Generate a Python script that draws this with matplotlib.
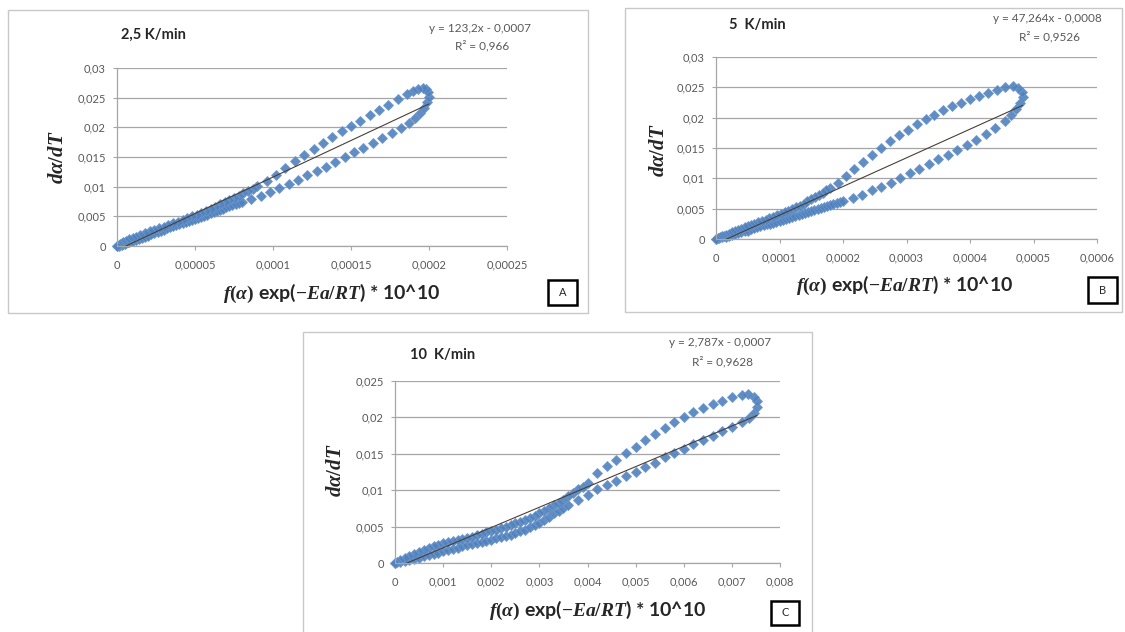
import matplotlib

matplotlib.use("Agg")
import matplotlib.pyplot as plt
from matplotlib.patches import Rectangle
from matplotlib.ticker import FuncFormatter, MultipleLocator

plt.rcParams["font.family"] = ["Lato", "DejaVu Sans"]
plt.rcParams["mathtext.fontset"] = "custom"
plt.rcParams["mathtext.it"] = "Liberation Serif:italic:bold"
plt.rcParams["mathtext.rm"] = "Liberation Serif:bold"
plt.rcParams["mathtext.bf"] = "Liberation Serif:bold"

# --- 2,5 K/min : x in 1e-6, y in 1e-3 ---
a_x = [0, 1, 2, 3, 4, 5, 6, 7, 8, 9, 10, 12, 14, 16, 18, 20, 22, 24, 26, 28, 30,
       32, 34, 36, 38, 40, 42, 44, 46, 48, 50, 52, 54, 56, 58, 60, 62, 64, 66,
       68, 70, 72, 74, 76, 78, 80, 86, 92, 98, 104, 110, 116, 122, 128, 134,
       140, 146, 152, 158, 164, 170, 176, 182, 187, 191, 194, 197, 199, 200,
       199.5, 198, 196, 193, 190, 186, 180, 174, 168, 162, 156, 150, 144, 138,
       132, 126, 120, 114, 108, 102, 96, 90, 87, 84, 81, 78, 75, 72, 69, 66, 63,
       60, 57, 54, 51, 48, 45, 42, 39, 36, 33, 30, 27, 24, 21, 18, 15, 12, 10,
       8, 6, 4, 3, 2, 1, 0]
a_y = [0, 0.08, 0.16, 0.25, 0.33, 0.42, 0.5, 0.6, 0.7, 0.8, 0.9, 1.05, 1.22, 1.4,
       1.57, 1.75, 1.95, 2.15, 2.35, 2.55, 2.75, 2.95, 3.15, 3.32, 3.5, 3.7,
       3.87, 4.04, 4.2, 4.38, 4.55, 4.75, 4.95, 5.12, 5.3, 5.5, 5.7, 5.9, 6.1,
       6.3, 6.5, 6.68, 6.86, 7.04, 7.22, 7.4, 8.0, 8.5, 9.1, 9.8, 10.5, 11.2,
       11.9, 12.6, 13.3, 14.2, 15.0, 15.8, 16.6, 17.4, 18.2, 19.0, 19.9, 20.8,
       21.6, 22.4, 23.3, 24.2, 25.1, 25.9, 26.4, 26.6, 26.5, 26.2, 25.6, 24.7,
       23.8, 22.9, 22.0, 21.1, 20.3, 19.3, 18.4, 17.4, 16.4, 15.4, 14.3, 13.2,
       12.0, 11.0, 10.1, 9.65, 9.2, 8.85, 8.5, 8.1, 7.7, 7.35, 7.0, 6.65, 6.3,
       5.95, 5.6, 5.3, 5.0, 4.7, 4.4, 4.1, 3.8, 3.5, 3.25, 3.0, 2.75, 2.5, 2.2,
       1.9, 1.6, 1.35, 1.1, 0.85, 0.6, 0.45, 0.3, 0.15, 0.05]

# --- 5 K/min : x in 1e-5, y in 1e-3 ---
b_x = [0, 0.5, 1, 1.5, 2, 2.5, 3, 3.5, 4, 4.5, 5, 5.5, 6, 6.5, 7, 7.5, 8, 8.5, 9,
       9.5, 10, 10.5, 11, 11.5, 12, 12.5, 13, 13.5, 14, 14.5, 15, 15.5, 16,
       16.5, 17, 17.5, 18, 18.5, 19, 19.5, 20, 21.5, 23, 24.5, 26, 27.5, 29,
       30.5, 32, 33.5, 35, 36.5, 38, 39.5, 41, 42.5, 44, 45.5, 46.5, 47.3, 47.9,
       48.3, 48.2, 47.6, 46.8, 45.5, 44.2, 42.8, 41.4, 40, 38.6, 37.2, 35.8,
       34.4, 33, 31.6, 30.2, 28.8, 27.4, 26, 24.6, 23.2, 21.8, 20.5, 19.2, 18,
       17.4, 16.8, 16.2, 15.6, 15, 14.4, 13.8, 13.2, 12.6, 12, 11.4, 10.8, 10.2,
       9.6, 9, 8.4, 7.8, 7.2, 6.6, 6, 5.5, 5, 4.5, 4, 3.5, 3, 2.5, 2, 1.5, 1.2,
       0.9, 0.6, 0.3, 0]
b_y = [0, 0.12, 0.25, 0.38, 0.5, 0.65, 0.8, 0.95, 1.1, 1.25, 1.4, 1.57, 1.75,
       1.92, 2.1, 2.25, 2.4, 2.55, 2.7, 2.85, 3.0, 3.15, 3.3, 3.45, 3.6, 3.78,
       3.95, 4.12, 4.3, 4.45, 4.6, 4.78, 4.95, 5.12, 5.3, 5.45, 5.6, 5.75, 5.9,
       6.05, 6.2, 6.75, 7.3, 8.0, 8.6, 9.3, 10.1, 10.8, 11.6, 12.4, 13.2, 13.9,
       14.7, 15.5, 16.4, 17.3, 18.3, 19.4, 20.4, 21.4, 22.4, 23.4, 24.2, 24.9,
       25.2, 25.0, 24.6, 24.1, 23.6, 23.1, 22.5, 21.9, 21.2, 20.5, 19.7, 18.9,
       18.0, 17.1, 16.1, 15.0, 13.9, 12.7, 11.5, 10.4, 9.3, 8.4, 8.0, 7.6, 7.25,
       6.9, 6.55, 6.2, 5.85, 5.5, 5.2, 4.9, 4.65, 4.4, 4.15, 3.9, 3.65, 3.4,
       3.2, 3.0, 2.75, 2.5, 2.3, 2.1, 1.9, 1.7, 1.5, 1.3, 1.1, 0.9, 0.7, 0.55,
       0.42, 0.3, 0.15, 0.05]

# --- 10 K/min : x in 1e-4, y in 1e-3 ---
c_x = [0, 1, 2, 3, 4, 5, 6, 7, 8, 9, 10, 11, 12, 13, 14, 15, 16, 17, 18, 19, 20,
       21, 22, 23, 24, 25, 26, 27, 28, 29, 30, 31, 32, 33, 34, 35, 36, 38, 40,
       42, 44, 46, 48, 50, 52, 54, 56, 58, 60, 62, 64, 66, 68, 70, 72, 73.5,
       74.6, 75.2, 75.2, 74.5, 73.3, 72, 70, 68, 66, 64, 62, 60, 58, 56, 54, 52,
       50, 48, 46, 44, 42, 40, 39, 38, 37, 36, 35, 34, 33, 32, 31, 30, 29, 28,
       27, 26, 25, 24, 23, 22, 21, 20, 19, 18, 17, 16, 15, 14, 13, 12, 11, 10,
       9, 8, 7, 6, 5, 4, 3, 2, 1, 0.5, 0]
c_y = [0, 0.15, 0.3, 0.45, 0.6, 0.75, 0.9, 1.05, 1.2, 1.4, 1.6, 1.78, 1.95, 2.12,
       2.3, 2.45, 2.6, 2.75, 2.9, 3.05, 3.2, 3.38, 3.55, 3.72, 3.9, 4.1, 4.35,
       4.6, 4.9, 5.2, 5.55, 5.95, 6.35, 6.8, 7.2, 7.6, 8.0, 8.7, 9.4, 10.1,
       10.7, 11.3, 11.9, 12.5, 13.2, 13.8, 14.5, 15.1, 15.7, 16.3, 16.9, 17.5,
       18.1, 18.7, 19.3, 19.9, 20.6, 21.4, 22.2, 22.8, 23.2, 23.1, 22.8, 22.3,
       21.8, 21.3, 20.7, 20.0, 19.3, 18.5, 17.7, 16.9, 16.0, 15.1, 14.2, 13.3,
       12.3, 11.0, 10.5, 10.1, 9.6, 9.2, 8.7, 8.3, 7.9, 7.5, 7.1, 6.8, 6.5, 6.2,
       5.95, 5.7, 5.45, 5.2, 5.0, 4.8, 4.6, 4.4, 4.2, 4.0, 3.8, 3.6, 3.45, 3.3,
       3.15, 3.0, 2.85, 2.7, 2.5, 2.3, 2.05, 1.8, 1.55, 1.3, 1.0, 0.7, 0.4, 0.2,
       0.05]

fit_a = (123.2, -0.0007)
fit_b = (47.264, -0.0008)
fit_c = (2.787, -0.0007)

W, H = 1125, 632
fig = plt.figure(figsize=(W / 100, H / 100), dpi=100)
fig.patch.set_facecolor("white")

BLUE = "#4f81bd"
TXT = "#595959"


def fx(px):
    return px / W


def fy(py):
    return 1 - py / H


def comma_fmt(v, _pos):
    if abs(v) < 1e-12:
        return "0"
    s = f"{v:.6f}".rstrip("0").rstrip(".")
    return s.replace(".", ",")


def panel(box, area, xs, ys, xscale, fit, xmax, xstep, ymax, title, title_xy,
          eq, r2, eq_xy, ylab_xy, xlab_xy, tag, tag_box):
    # outer chart frame
    x0, y0, x1, y1 = box
    fig.patches.append(Rectangle((fx(x0), fy(y1)), fx(x1 - x0), (y1 - y0) / H,
                                 transform=fig.transFigure, fill=False,
                                 edgecolor="#c8c8c8", linewidth=1.0))

    l, t, r, b = area
    ax = fig.add_axes([fx(l), fy(b), fx(r - l), (b - t) / H])
    x = [v * xscale for v in xs]
    y = [v * 1e-3 for v in ys]

    ax.set_xlim(0, xmax)
    ax.set_ylim(0, ymax)
    ax.xaxis.set_major_locator(MultipleLocator(xstep))
    ax.yaxis.set_major_locator(MultipleLocator(0.005))
    ax.xaxis.set_major_formatter(FuncFormatter(comma_fmt))
    ax.yaxis.set_major_formatter(FuncFormatter(comma_fmt))
    ax.grid(axis="y", color="#a6a6a6", linewidth=0.9)
    ax.set_axisbelow(True)
    for side in ("top", "right"):
        ax.spines[side].set_visible(False)
    for side in ("left", "bottom"):
        ax.spines[side].set_color("#a6a6a6")
        ax.spines[side].set_linewidth(0.9)
    ax.tick_params(direction="out", length=3, width=0.8, color="#a6a6a6",
                   labelsize=8, labelcolor=TXT)
    ax.tick_params(axis="x", pad=7)
    ax.tick_params(axis="y", pad=5)

    ax.plot(x, y, linestyle="none", marker="D", markersize=5.2,
            markerfacecolor=BLUE, markeredgecolor="#6d97cc",
            markeredgewidth=0.6, alpha=0.9, zorder=2, clip_on=False)

    k, c = fit
    fx_line = [min(x), max(x)]
    ax.plot(fx_line, [k * v + c for v in fx_line], color="#4a3f35",
            linewidth=0.8, zorder=3)

    fig.text(fx(title_xy[0]), fy(title_xy[1]), title, fontsize=10.5,
             fontweight="bold", color="#262626", va="center", ha="left")
    fig.text(fx(eq_xy[0]), fy(eq_xy[1]), eq, fontsize=8.5, color=TXT,
             ha="center", va="center")
    fig.text(fx(eq_xy[0]) + 0.002, fy(eq_xy[2]), r2, fontsize=8.5, color=TXT,
             ha="center", va="center")

    fig.text(fx(ylab_xy[0]), fy(ylab_xy[1]), r"$d\alpha/dT$", fontsize=15,
             rotation=90, ha="center", va="center", color="#262626")
    fig.text(fx(xlab_xy[0]), fy(xlab_xy[1]),
             r"$f(\alpha)$ exp($-Ea/RT$) * 10^10", fontsize=14,
             fontweight="bold", ha="center", va="center", color="#262626")

    bx0, by0, bx1, by1 = tag_box
    fig.patches.append(Rectangle((fx(bx0), fy(by1)), fx(bx1 - bx0),
                                 (by1 - by0) / H, transform=fig.transFigure,
                                 fill=False, edgecolor="black", linewidth=1.8))
    fig.text(fx((bx0 + bx1) / 2), fy((by0 + by1) / 2), tag, fontsize=8,
             color="#262626", ha="center", va="center")
    return ax


panel((8, 10, 588, 313), (117, 68, 507, 246), a_x, a_y, 1e-6, fit_a,
      0.00025, 0.00005, 0.03, "2,5 K/min", (121, 35),
      "y = 123,2x - 0,0007", "R² = 0,966", (480, 29, 46),
      (57, 157), (332, 293), "A", (548, 280, 577, 305))

panel((625, 8, 1122, 312), (716, 57, 1097, 239), b_x, b_y, 1e-5, fit_b,
      0.0006, 0.0001, 0.03, "5  K/min", (729, 25),
      "y = 47,264x - 0,0008", "R² = 0,9526", (1047, 19, 37),
      (658, 150), (905, 285), "B", (1088, 277, 1117, 303))

panel((303, 332, 812, 640), (395, 381, 780, 563), c_x, c_y, 1e-4, fit_c,
      0.008, 0.001, 0.025, "10  K/min", (410, 355),
      "y = 2,787x - 0,0007", "R² = 0,9628", (720, 343, 362),
      (335, 470), (598, 610), "C", (771, 601, 799, 625))

fig.savefig("out.png", dpi=100, facecolor="white")
